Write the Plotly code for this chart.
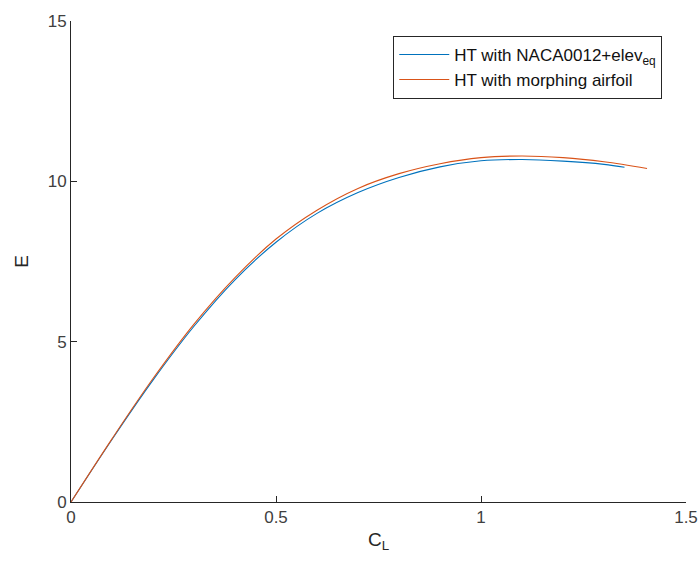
import plotly.graph_objects as go

# Lift coefficient samples and aerodynamic efficiency for the two tail designs
cl_naca = [0.0, 0.1, 0.2, 0.3, 0.4, 0.5, 0.6, 0.7, 0.8, 0.9, 1.0, 1.1, 1.2, 1.3, 1.35]
e_naca = [0.0, 1.95, 3.80, 5.48, 6.93, 8.10, 9.00, 9.65, 10.12, 10.45, 10.64, 10.68, 10.63, 10.53, 10.44]

cl_morph = [0.0, 0.1, 0.2, 0.3, 0.4, 0.5, 0.6, 0.7, 0.8, 0.9, 1.0, 1.1, 1.2, 1.3, 1.405]
e_morph = [0.0, 1.97, 3.85, 5.55, 7.00, 8.20, 9.10, 9.78, 10.24, 10.55, 10.74, 10.79, 10.74, 10.61, 10.40]

x_ticks = [0, 0.5, 1, 1.5]
y_ticks = [0, 5, 10, 15]

FONT = "Liberation Sans, Arial, Helvetica, sans-serif"
AXIS_COLOR = "#262626"

fig = go.Figure()
fig.add_trace(go.Scatter(
    x=cl_naca, y=e_naca, mode="lines", line_shape="spline",
    name="HT with NACA0012+elev<sub>eq</sub>",
    line=dict(color="#0072BD", width=1.1),
))
fig.add_trace(go.Scatter(
    x=cl_morph, y=e_morph, mode="lines", line_shape="spline",
    name="HT with morphing airfoil",
    line=dict(color="#D95319", width=1.1),
))

axis_common = dict(
    showline=True, linecolor=AXIS_COLOR, linewidth=1,
    ticks="inside", ticklen=6, tickcolor=AXIS_COLOR, tickwidth=1,
    showgrid=False, zeroline=False, mirror=False, automargin=False,
    tickfont=dict(family=FONT, size=17, color="#404040"),
)

fig.update_layout(
    width=700, height=570,
    margin=dict(l=71, r=14, t=21, b=68, autoexpand=False),
    paper_bgcolor="white", plot_bgcolor="white",
    font=dict(family=FONT, size=17, color=AXIS_COLOR),
    showlegend=True,
    legend=dict(
        x=0.524, y=0.969, xanchor="left", yanchor="top",
        bgcolor="white", bordercolor=AXIS_COLOR, borderwidth=1,
        font=dict(family=FONT, size=17, color="#111111"),
        itemwidth=50, tracegroupgap=0,
    ),
    xaxis=dict(
        range=[0, 1.5], tickvals=x_ticks, ticktext=["0", "0.5", "1", "1.5"],
        title=dict(text="C<sub>L</sub>", font=dict(family=FONT, size=19, color=AXIS_COLOR), standoff=6),
        **axis_common,
    ),
    yaxis=dict(
        range=[0, 15], tickvals=y_ticks, ticktext=["0", "5", "10", "15"],
        title=dict(text="E", font=dict(family=FONT, size=19, color=AXIS_COLOR), standoff=14),
        **axis_common,
    ),
)

fig.write_html("out.html")
